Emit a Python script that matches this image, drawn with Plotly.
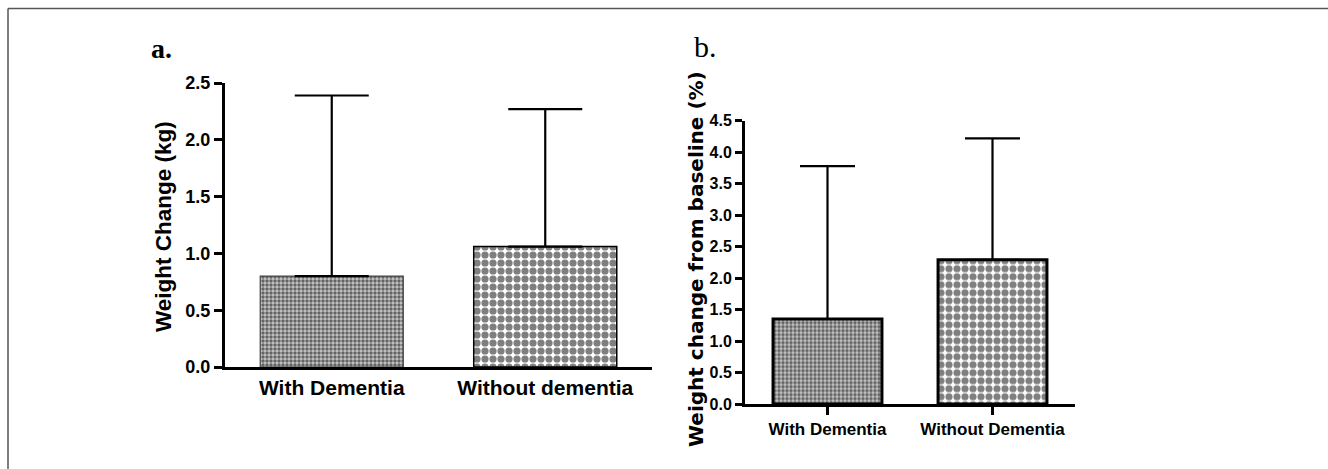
import plotly.graph_objects as go

# ---- data ----
cats_a = ["With Dementia", "Without dementia"]
mean_a = [0.80, 1.06]
sd_a = [1.59, 1.21]          # upper error (top of bar to cap)

cats_b = ["With Dementia", "Without Dementia"]
mean_b = [1.35, 2.29]
sd_b = [2.43, 1.93]

yticks_a = [0.0, 0.5, 1.0, 1.5, 2.0, 2.5]
yticks_b = [0.0, 0.5, 1.0, 1.5, 2.0, 2.5, 3.0, 3.5, 4.0, 4.5]

FONT = "Liberation Sans, Arial, sans-serif"
WIDE = "DejaVu Sans, Liberation Sans, sans-serif"
SERIF = "Liberation Serif, Times New Roman, serif"

W, H = 1328, 469

FINE = dict(shape=".", size=4, solidity=0.6, fgcolor="black", fillmode="overlay")
COARSE = dict(shape=".", size=8, solidity=0.64, fgcolor="black", bgcolor="white")

fig = go.Figure()

# panel a
fig.add_trace(go.Bar(
    x=[0], y=[mean_a[0]], width=0.67, xaxis="x", yaxis="y",
    marker=dict(color="#c8c8c8", line=dict(color="#444", width=1.2), pattern=FINE),
    error_y=dict(type="data", symmetric=False, array=[sd_a[0]], arrayminus=[0],
                 color="black", thickness=2.2, width=37),
    showlegend=False, hoverinfo="skip"))
fig.add_trace(go.Bar(
    x=[1], y=[mean_a[1]], width=0.67, xaxis="x", yaxis="y",
    marker=dict(color="white", line=dict(color="black", width=1.5), pattern=COARSE),
    error_y=dict(type="data", symmetric=False, array=[sd_a[1]], arrayminus=[0],
                 color="black", thickness=2.2, width=37),
    showlegend=False, hoverinfo="skip"))

# panel b
fig.add_trace(go.Bar(
    x=[0], y=[mean_b[0]], width=0.66, xaxis="x2", yaxis="y2",
    marker=dict(color="#c8c8c8", line=dict(color="black", width=3), pattern=FINE),
    error_y=dict(type="data", symmetric=False, array=[sd_b[0]], arrayminus=[0],
                 color="black", thickness=2.2, width=27.5),
    showlegend=False, hoverinfo="skip"))
fig.add_trace(go.Bar(
    x=[1], y=[mean_b[1]], width=0.66, xaxis="x2", yaxis="y2",
    marker=dict(color="white", line=dict(color="black", width=3), pattern=COARSE),
    error_y=dict(type="data", symmetric=False, array=[sd_b[1]], arrayminus=[0],
                 color="black", thickness=2.2, width=27.5),
    showlegend=False, hoverinfo="skip"))

ax_common = dict(showgrid=False, zeroline=False, showline=True, linecolor="black",
                 linewidth=3, automargin=False)

fig.update_layout(
    width=W, height=H,
    margin=dict(l=0, r=0, t=0, b=0, pad=0, autoexpand=False),
    paper_bgcolor="white", plot_bgcolor="white",
    xaxis=dict(domain=[225 / W, 652 / W], range=[-0.5, 1.5], tickmode="array",
               tickvals=[0, 1], ticktext=cats_a, ticks="", ticklabelstandoff=0,
               tickfont=dict(family=FONT, size=21, color="black", weight="bold"),
               anchor="y", **ax_common),
    yaxis=dict(domain=[(H - 367) / H, (H - 83) / H], range=[0, 2.5], tickmode="array",
               tickvals=yticks_a, ticktext=[f"{v:.1f}" for v in yticks_a],
               ticks="outside", ticklen=8, tickwidth=2.5, tickcolor="black",
               ticklabelstandoff=0,
               tickfont=dict(family=FONT, size=18, color="black", weight="bold"),
               anchor="x", **ax_common),
    xaxis2=dict(domain=[745 / W, 1075 / W], range=[-0.5, 1.5], tickmode="array",
                tickvals=[0, 1], ticktext=cats_b, ticks="outside", ticklen=8,
                tickwidth=3, tickcolor="black", ticklabelstandoff=0,
                tickfont=dict(family=FONT, size=17, color="black", weight="bold"),
                anchor="y2", **ax_common),
    yaxis2=dict(domain=[(H - 404) / H, (H - 120.7) / H], range=[0, 4.5], tickmode="array",
                tickvals=yticks_b, ticktext=[f"{v:.1f}" for v in yticks_b],
                ticks="outside", ticklen=7, tickwidth=2.5, tickcolor="black",
                ticklabelstandoff=0,
                tickfont=dict(family=FONT, size=16, color="black", weight="bold"),
                anchor="x2", **ax_common),
    annotations=[
        dict(text="Weight Change (kg)", x=163 / W, y=(H - 227) / H, xref="paper", yref="paper",
             textangle=-90, showarrow=False, xanchor="center", yanchor="middle",
             font=dict(family=FONT, size=22.5, color="black", weight="bold")),
        dict(text="Weight change from baseline (%)", x=696 / W, y=(H - 259) / H,
             xref="paper", yref="paper", textangle=-90, showarrow=False,
             xanchor="center", yanchor="middle",
             font=dict(family=WIDE, size=20, color="black", weight="bold")),
        dict(text="a.", x=161 / W, y=(H - 49) / H, xref="paper", yref="paper",
             showarrow=False, xanchor="center", yanchor="middle",
             font=dict(family=SERIF, size=28, color="black", weight="bold")),
        dict(text="b.", x=706 / W, y=(H - 46) / H, xref="paper", yref="paper",
             showarrow=False, xanchor="center", yanchor="middle",
             font=dict(family=SERIF, size=30, color="black")),
    ],
    shapes=[
        dict(type="line", xref="paper", yref="paper", x0=8 / W, x1=1, y0=(H - 8.5) / H,
             y1=(H - 8.5) / H, line=dict(color="#555", width=1.5)),
        dict(type="line", xref="paper", yref="paper", x0=8 / W, x1=8 / W, y0=0,
             y1=(H - 8.5) / H, line=dict(color="#555", width=1.5)),
    ],
)

fig.write_html(
    "out.html",
    config={"displayModeBar": False},
    post_script="document.body.style.margin='0';document.body.style.overflow='hidden';",
)
